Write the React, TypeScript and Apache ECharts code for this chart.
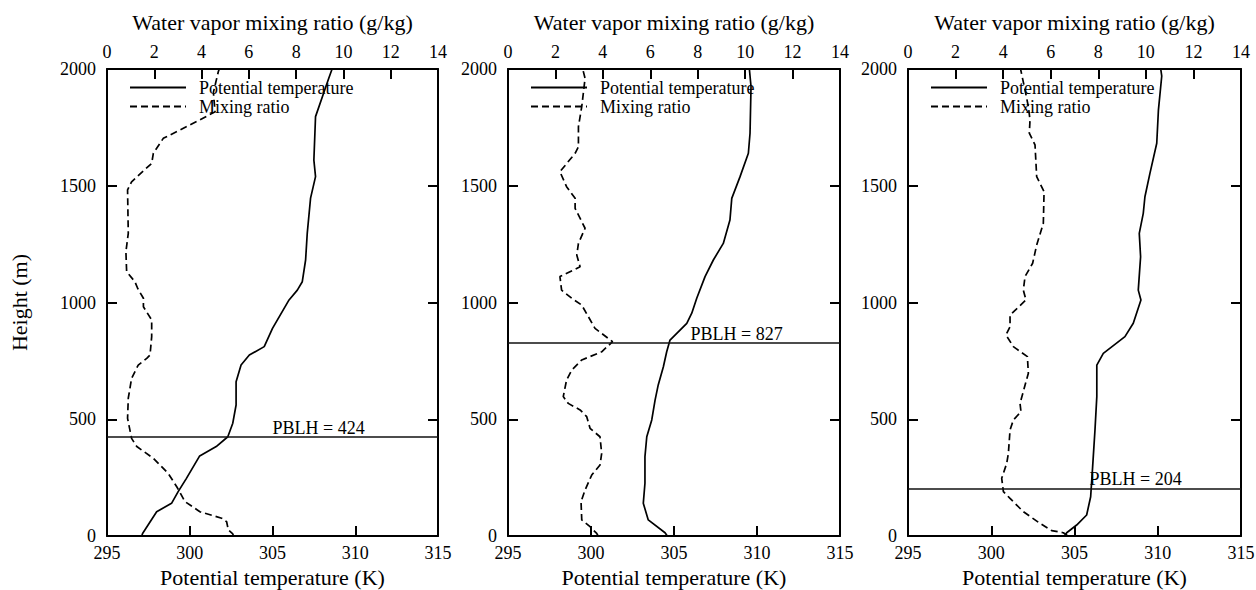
import { useEffect, useRef } from "react";
import * as echarts from "echarts";

// Profiles as [height (m), value] pairs, ordered from the surface upward.
const theta1: [number, number][] = [
  [0, 297.1], [11, 297.15], [104, 298.0], [140, 298.9], [190, 299.3], [247, 299.8],
  [343, 300.6], [383, 301.6], [425, 302.3], [483, 302.6], [561, 302.8], [661, 302.8],
  [732, 303.1], [775, 303.6], [811, 304.5], [889, 305.0], [1011, 306.0], [1053, 306.5],
  [1089, 306.8], [1182, 307.0], [1297, 307.1], [1447, 307.3], [1539, 307.6], [1610, 307.5],
  [1796, 307.6], [1960, 308.4], [2000, 308.6],
];
const mixing1: [number, number][] = [
  [0, 5.35], [9, 5.32], [26, 5.13], [61, 5.06], [76, 4.85], [104, 3.93], [147, 3.3],
  [211, 2.95], [268, 2.59], [333, 1.96], [383, 1.26], [418, 1.04], [504, 0.87], [590, 0.9],
  [675, 1.04], [732, 1.32], [761, 1.68], [775, 1.82], [854, 1.89], [925, 1.89], [982, 1.54],
  [1018, 1.54], [1060, 1.3], [1089, 1.18], [1132, 0.83], [1218, 0.8], [1296, 0.9],
  [1482, 0.87], [1517, 1.04], [1596, 1.89], [1639, 1.96], [1703, 2.38], [1782, 3.93],
  [1817, 4.57], [1900, 4.5], [1989, 4.71], [2000, 4.75],
];

const theta2: [number, number][] = [
  [0, 304.6], [14, 304.46], [69, 303.45], [140, 303.15], [226, 303.25], [340, 303.25],
  [425, 303.36], [497, 303.66], [582, 303.86], [647, 304.05], [725, 304.36], [789, 304.56],
  [839, 304.76], [911, 305.77], [954, 306.07], [1018, 306.37], [1111, 306.87], [1182, 307.37],
  [1253, 307.97], [1353, 308.37], [1446, 308.48], [1539, 308.98], [1639, 309.48],
  [1725, 309.58], [1925, 309.64], [2000, 309.54],
];
const mixing2: [number, number][] = [
  [0, 3.8], [11, 3.74], [40, 3.46], [69, 3.11], [147, 3.08], [197, 3.25], [261, 3.53],
  [304, 3.88], [354, 3.95], [425, 3.88], [461, 3.46], [511, 3.32], [540, 3.04], [568, 2.54],
  [597, 2.33], [668, 2.47], [711, 2.69], [754, 3.11], [789, 3.95], [832, 4.41], [889, 3.67],
  [989, 3.11], [1018, 2.69], [1053, 2.26], [1111, 2.19], [1153, 3.04], [1203, 2.9],
  [1253, 2.97], [1318, 3.25], [1403, 2.83], [1446, 2.83], [1496, 2.47], [1560, 2.19],
  [1639, 2.83], [1667, 2.97], [1753, 2.97], [1839, 3.11], [1960, 3.25], [2000, 3.15],
];

const theta3: [number, number][] = [
  [0, 304.4], [14, 304.53], [47, 305.13], [90, 305.73], [168, 305.97], [297, 306.09],
  [454, 306.23], [597, 306.34], [732, 306.34], [782, 306.73], [854, 308.03], [911, 308.53],
  [1011, 308.99], [1053, 308.83], [1196, 308.97], [1296, 308.89], [1382, 309.13],
  [1453, 309.23], [1553, 309.53], [1682, 309.94], [1824, 310.04], [1970, 310.24], [2000, 310.18],
];
const mixing3: [number, number][] = [
  [0, 6.7], [4, 6.67], [14, 6.53], [23, 6.04], [54, 5.55], [104, 4.85], [161, 4.29],
  [190, 4.01], [247, 3.94], [311, 4.15], [354, 4.22], [454, 4.29], [497, 4.43], [532, 4.75],
  [568, 4.71], [697, 5.06], [768, 5.02], [811, 4.43], [861, 4.12], [896, 4.29], [946, 4.29],
  [1011, 4.96], [1053, 4.85], [1111, 4.92], [1168, 5.24], [1246, 5.41], [1339, 5.69],
  [1475, 5.72], [1539, 5.41], [1675, 5.34], [1725, 5.1], [1782, 5.13], [1839, 5.06],
  [1910, 4.92], [1996, 4.74], [2000, 4.72],
];

// Boundary-layer heights (m), one per profile.
const pblhValues = [424, 827, 204];

const thetaRange = { min: 295, max: 315, interval: 5 };
const mixingRange = { min: 0, max: 14, interval: 2 };
const heightRange = { min: 0, max: 2000, interval: 500 };

const seriesNames = ["Potential temperature", "Mixing ratio"];

// Layout of the three panels.
const gridLefts = [107, 508, 908];
const gridWidths = [331, 332, 333];
const gridTop = 69;
const gridHeight = 467;
// Temperature at which each PBLH caption starts.
const pblhLabelTheta = [305.0, 306.0, 305.9];

const FONT = "'Liberation Serif', 'DejaVu Serif', serif";

const profiles = [
  { theta: theta1, mixing: mixing1 },
  { theta: theta2, mixing: mixing2 },
  { theta: theta3, mixing: mixing3 },
];

const plainNumber = (v: number) => String(v);

function buildOption(): echarts.EChartsCoreOption {
  const axisLine = { show: true, onZero: false, lineStyle: { color: "#000", width: 2 } };
  const axisTick = { show: true, inside: true, length: 10, lineStyle: { color: "#000", width: 2 } };
  const labelStyle = {
    color: "#000",
    fontFamily: FONT,
    fontSize: 18,
    formatter: plainNumber,
    showMinLabel: true,
    showMaxLabel: true,
  };
  const nameStyle = { color: "#000", fontFamily: FONT, fontSize: 22 };

  const grid = profiles.map((_, i) => ({
    left: gridLefts[i],
    top: gridTop,
    width: gridWidths[i],
    height: gridHeight,
    containLabel: false,
    outerBoundsMode: "none",
  }));

  const xAxis: any[] = [];
  const yAxis: any[] = [];
  const series: any[] = [];
  const legend: any[] = [];

  profiles.forEach((p, i) => {
    xAxis.push({
      type: "value",
      gridIndex: i,
      position: "bottom",
      ...thetaRange,
      name: "Potential temperature (K)",
      nameLocation: "middle",
      nameGap: 30,
      nameTextStyle: nameStyle,
      axisLine,
      axisTick,
      splitLine: { show: false },
      axisLabel: { ...labelStyle, margin: 8 },
    });
    xAxis.push({
      type: "value",
      gridIndex: i,
      position: "top",
      ...mixingRange,
      name: "Water vapor mixing ratio (g/kg)",
      nameLocation: "middle",
      nameGap: 36,
      nameTextStyle: nameStyle,
      axisLine,
      axisTick,
      splitLine: { show: false },
      axisLabel: { ...labelStyle, margin: 8 },
    });
    yAxis.push({
      type: "value",
      gridIndex: i,
      position: "left",
      ...heightRange,
      name: i === 0 ? "Height (m)" : "",
      nameLocation: "middle",
      nameGap: 77,
      nameTextStyle: nameStyle,
      axisLine,
      axisTick,
      splitLine: { show: false },
      axisLabel: { ...labelStyle, margin: 11 },
    });
    yAxis.push({
      type: "value",
      gridIndex: i,
      position: "right",
      ...heightRange,
      axisLine,
      axisTick,
      splitLine: { show: false },
      axisLabel: { show: false },
    });

    const pblh = pblhValues[i];
    series.push({
      type: "line",
      name: seriesNames[0],
      xAxisIndex: 2 * i,
      yAxisIndex: 2 * i,
      data: p.theta.map(([h, t]) => [t, h]),
      symbol: "none",
      showSymbol: false,
      lineStyle: { color: "#000", width: 1.7, type: "solid" },
      itemStyle: { color: "#000" },
      z: 3,
      markLine: {
        silent: true,
        symbol: "none",
        data: [{ yAxis: pblh }],
        lineStyle: { color: "#111", width: 1.6, type: "solid" },
        label: { show: false },
      },
      markPoint: {
        silent: true,
        symbol: "circle",
        symbolSize: 0,
        data: [{ coord: [pblhLabelTheta[i], pblh], value: pblh }],
        label: {
          show: true,
          position: [0, -18],
          formatter: (d: any) => `PBLH = ${d.value}`,
          color: "#000",
          fontFamily: FONT,
          fontSize: 18,
        },
      },
    });
    series.push({
      type: "line",
      name: seriesNames[1],
      xAxisIndex: 2 * i + 1,
      yAxisIndex: 2 * i,
      data: p.mixing.map(([h, q]) => [q, h]),
      symbol: "none",
      showSymbol: false,
      lineStyle: { color: "#000", width: 1.7, type: [7, 4] },
      itemStyle: { color: "#000" },
      z: 3,
    });

    legend.push({
      orient: "vertical",
      left: gridLefts[i] + 22,
      top: 78,
      padding: 0,
      itemGap: 0,
      itemWidth: 56,
      itemHeight: 10,
      selectedMode: false,
      data: seriesNames,
      itemStyle: { opacity: 0 },
      textStyle: {
        color: "#000",
        fontFamily: FONT,
        fontSize: 18,
        lineHeight: 19,
        padding: [0, 0, 0, 8],
      },
    });
  });

  return {
    animation: false,
    backgroundColor: "#fff",
    grid,
    xAxis,
    yAxis,
    series,
    legend,
  };
}

export default function App() {
  const ref = useRef<HTMLDivElement>(null);

  useEffect(() => {
    if (!ref.current) return;
    const chart = echarts.init(ref.current, undefined, { renderer: "svg" });
    chart.setOption(buildOption());
    return () => chart.dispose();
  }, []);

  return (
    <div
      ref={ref}
      style={{
        position: "fixed",
        left: 0,
        top: 0,
        width: 1256,
        height: 590,
        background: "#fff",
      }}
    />
  );
}
